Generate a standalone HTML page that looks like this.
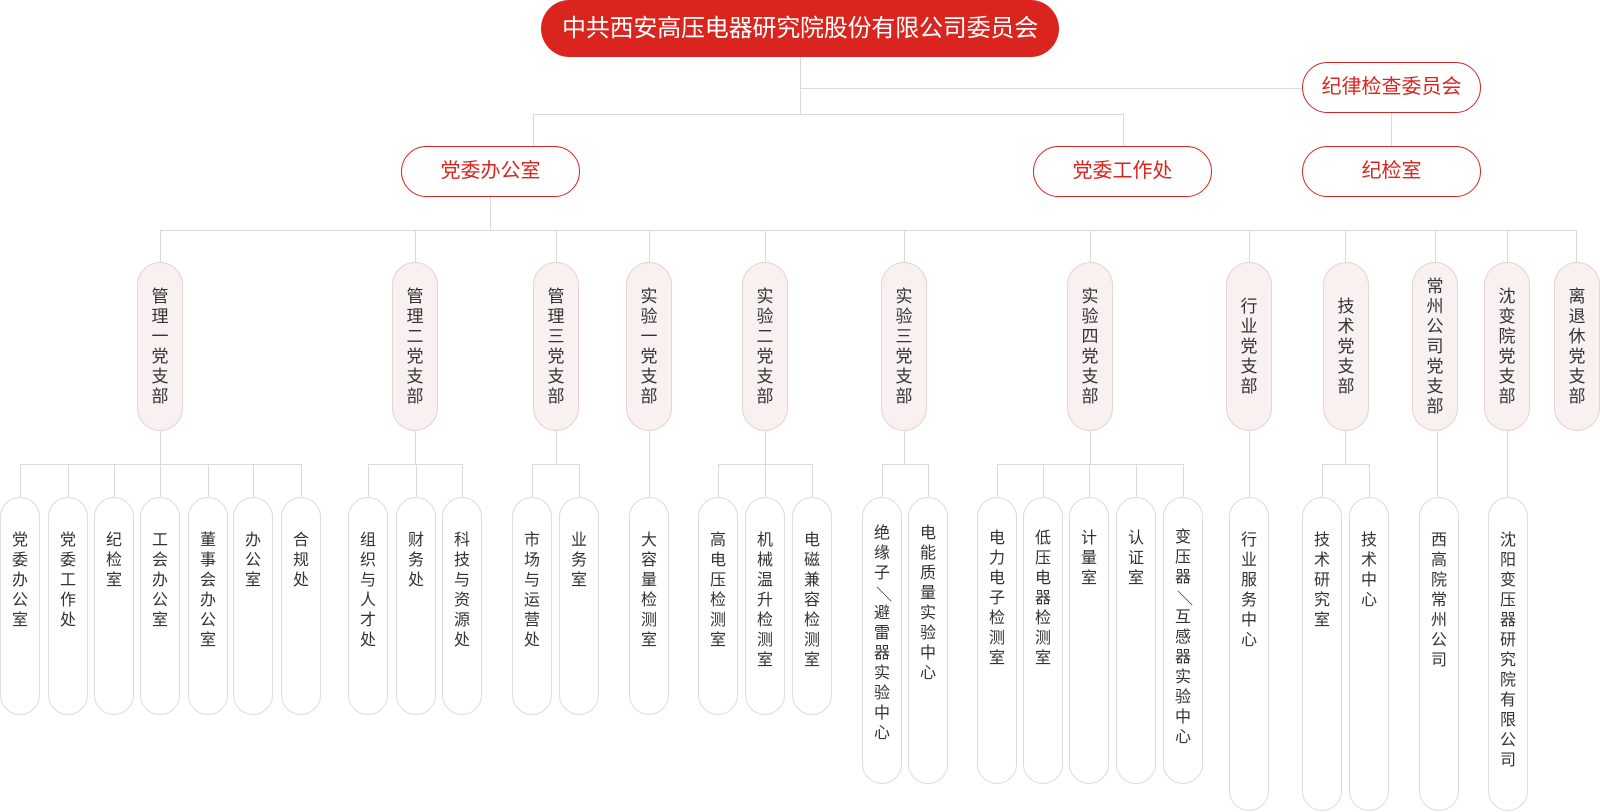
<!DOCTYPE html>
<html><head><meta charset="utf-8">
<style>
html,body{margin:0;padding:0;background:#fff;}
body{width:1600px;height:812px;position:relative;overflow:hidden;font-family:"Liberation Sans","Noto Sans CJK SC",sans-serif;}
svg.lines{position:absolute;left:0;top:0;}
.top{position:absolute;left:541px;top:0;width:518px;height:57px;border-radius:28.5px;background:#d9251d;color:#fff;font-size:24px;line-height:57px;text-align:center;letter-spacing:-0.2px;}
.n2{position:absolute;box-sizing:border-box;height:51px;width:179px;border:1px solid #d9251d;border-radius:25.5px;background:#fff;color:#d9251d;font-size:20px;line-height:49px;text-align:center;}
.br{position:absolute;box-sizing:border-box;top:262px;width:46px;height:169px;border:1px solid #e6d4d4;border-radius:23px;background:#f9f0f0;color:#333;font-size:17px;line-height:20px;text-align:center;display:flex;align-items:center;justify-content:center;}
.lf{position:absolute;box-sizing:border-box;top:497px;width:40px;border:1px solid #dcdcdc;border-radius:20px;background:#fff;}
.lf .t{position:absolute;left:0;right:0;top:33px;color:#333;font-size:16px;line-height:20px;text-align:center;}
.A{height:218px}.B{height:287px}.C{height:314px}
.sl{display:inline-block;transform:rotate(90deg);}
</style></head><body>
<svg class="lines" width="1600" height="812" xmlns="http://www.w3.org/2000/svg">
<g stroke="#dadada" stroke-width="1" fill="none" shape-rendering="crispEdges">
<path d="M800.5 57V114.5"/>
<path d="M800 88.5H1302"/>
<path d="M533 114.5H1124"/>
<path d="M533.5 114V146"/>
<path d="M1123.5 114V146"/>
<path d="M1391.5 113V146"/>
<path d="M490.5 197V230"/>
<path d="M160 230.5H1577"/>
<!-- branch tops -->
<path d="M160.5 230V262M415.5 230V262M556.5 230V262M649.5 230V262M765.5 230V262M904.5 230V262M1090.5 230V262M1249.5 230V262M1345.5 230V262M1435.5 230V262M1507.5 230V262M1576.5 230V262"/>
<!-- branch bottoms -->
<path d="M160.5 431V464M415.5 431V464M556.5 431V464M649.5 431V497M765.5 431V464M904.5 431V464M1090.5 431V464M1249.5 431V497M1345.5 431V464M1437.5 431V497M1507.5 431V497"/>
<!-- bars -->
<path d="M20 464.5H301.5M368 464.5H462.5M532 464.5H579.5M718 464.5H812.5M882 464.5H928.5M997 464.5H1183.5M1322 464.5H1369.5"/>
<!-- leaf verticals -->
<path d="M20.5 464V497M68.5 464V497M114.5 464V497M160.5 464V497M208.5 464V497M253.5 464V497M301.5 464V497
M368.5 464V497M416.5 464V497M462.5 464V497M532.5 464V497M579.5 464V497
M718.5 464V497M765.5 464V497M812.5 464V497M882.5 464V497M928.5 464V497
M997.5 464V497M1043.5 464V497M1089.5 464V497M1136.5 464V497M1183.5 464V497
M1322.5 464V497M1369.5 464V497"/>
</g>
</svg>

<div class="top">中共西安高压电器研究院股份有限公司委员会</div>

<div class="n2" style="left:401px;top:146px;">党委办公室</div>
<div class="n2" style="left:1033px;top:146px;">党委工作处</div>
<div class="n2" style="left:1302px;top:62px;">纪律检查委员会</div>
<div class="n2" style="left:1302px;top:146px;">纪检室</div>

<div class="br" style="left:137px;"><div>管<br>理<br>一<br>党<br>支<br>部</div></div>
<div class="br" style="left:392px;"><div>管<br>理<br>二<br>党<br>支<br>部</div></div>
<div class="br" style="left:533px;"><div>管<br>理<br>三<br>党<br>支<br>部</div></div>
<div class="br" style="left:626px;"><div>实<br>验<br>一<br>党<br>支<br>部</div></div>
<div class="br" style="left:742px;"><div>实<br>验<br>二<br>党<br>支<br>部</div></div>
<div class="br" style="left:881px;"><div>实<br>验<br>三<br>党<br>支<br>部</div></div>
<div class="br" style="left:1067px;"><div>实<br>验<br>四<br>党<br>支<br>部</div></div>
<div class="br" style="left:1226px;"><div>行<br>业<br>党<br>支<br>部</div></div>
<div class="br" style="left:1323px;"><div>技<br>术<br>党<br>支<br>部</div></div>
<div class="br" style="left:1412px;"><div>常<br>州<br>公<br>司<br>党<br>支<br>部</div></div>
<div class="br" style="left:1484px;"><div>沈<br>变<br>院<br>党<br>支<br>部</div></div>
<div class="br" style="left:1554px;"><div>离<br>退<br>休<br>党<br>支<br>部</div></div>

<!-- 管理一 -->
<div class="lf A" style="left:0px;"><div class="t">党<br>委<br>办<br>公<br>室</div></div>
<div class="lf A" style="left:48px;"><div class="t">党<br>委<br>工<br>作<br>处</div></div>
<div class="lf A" style="left:94px;"><div class="t">纪<br>检<br>室</div></div>
<div class="lf A" style="left:140px;"><div class="t">工<br>会<br>办<br>公<br>室</div></div>
<div class="lf A" style="left:188px;"><div class="t">董<br>事<br>会<br>办<br>公<br>室</div></div>
<div class="lf A" style="left:233px;"><div class="t">办<br>公<br>室</div></div>
<div class="lf A" style="left:281px;"><div class="t">合<br>规<br>处</div></div>
<!-- 管理二 -->
<div class="lf A" style="left:348px;"><div class="t">组<br>织<br>与<br>人<br>才<br>处</div></div>
<div class="lf A" style="left:396px;"><div class="t">财<br>务<br>处</div></div>
<div class="lf A" style="left:442px;"><div class="t">科<br>技<br>与<br>资<br>源<br>处</div></div>
<!-- 管理三 -->
<div class="lf A" style="left:512px;"><div class="t">市<br>场<br>与<br>运<br>营<br>处</div></div>
<div class="lf A" style="left:559px;"><div class="t">业<br>务<br>室</div></div>
<!-- 实验一 -->
<div class="lf A" style="left:629px;"><div class="t">大<br>容<br>量<br>检<br>测<br>室</div></div>
<!-- 实验二 -->
<div class="lf A" style="left:698px;"><div class="t">高<br>电<br>压<br>检<br>测<br>室</div></div>
<div class="lf A" style="left:745px;"><div class="t">机<br>械<br>温<br>升<br>检<br>测<br>室</div></div>
<div class="lf A" style="left:792px;"><div class="t">电<br>磁<br>兼<br>容<br>检<br>测<br>室</div></div>
<!-- 实验三 -->
<div class="lf B" style="left:862px;"><div class="t" style="top:26px;">绝<br>缘<br>子<br><span class="sl">／</span><br>避<br>雷<br>器<br>实<br>验<br>中<br>心</div></div>
<div class="lf B" style="left:908px;"><div class="t" style="top:26px;">电<br>能<br>质<br>量<br>实<br>验<br>中<br>心</div></div>
<!-- 实验四 -->
<div class="lf B" style="left:977px;"><div class="t" style="top:31px;">电<br>力<br>电<br>子<br>检<br>测<br>室</div></div>
<div class="lf B" style="left:1023px;"><div class="t" style="top:31px;">低<br>压<br>电<br>器<br>检<br>测<br>室</div></div>
<div class="lf B" style="left:1069px;"><div class="t" style="top:31px;">计<br>量<br>室</div></div>
<div class="lf B" style="left:1116px;"><div class="t" style="top:31px;">认<br>证<br>室</div></div>
<div class="lf B" style="left:1163px;"><div class="t" style="top:30px;">变<br>压<br>器<br><span class="sl">／</span><br>互<br>感<br>器<br>实<br>验<br>中<br>心</div></div>
<!-- 行业 -->
<div class="lf C" style="left:1229px;"><div class="t">行<br>业<br>服<br>务<br>中<br>心</div></div>
<!-- 技术 -->
<div class="lf C" style="left:1302px;"><div class="t">技<br>术<br>研<br>究<br>室</div></div>
<div class="lf C" style="left:1349px;"><div class="t">技<br>术<br>中<br>心</div></div>
<!-- 常州 -->
<div class="lf C" style="left:1419px;"><div class="t">西<br>高<br>院<br>常<br>州<br>公<br>司</div></div>
<!-- 沈变 -->
<div class="lf C" style="left:1488px;"><div class="t">沈<br>阳<br>变<br>压<br>器<br>研<br>究<br>院<br>有<br>限<br>公<br>司</div></div>
</body></html>
